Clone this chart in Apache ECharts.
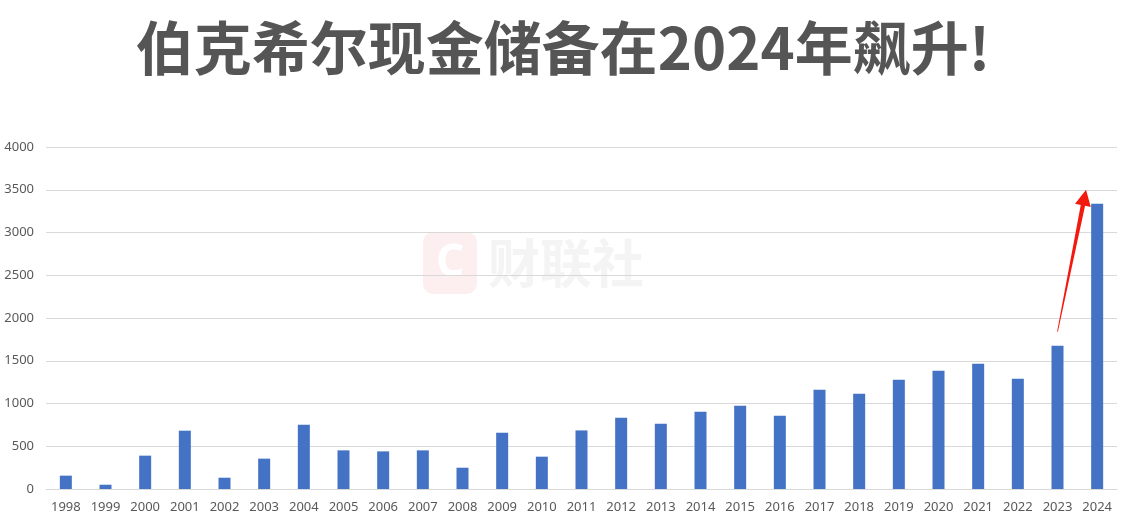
<!DOCTYPE html>
<html><head><meta charset="utf-8">
<script src="https://cdn.jsdelivr.net/npm/echarts@6/dist/echarts.min.js"></script>
<style>html,body{margin:0;padding:0;background:#fff}#c{width:1126px;height:520px}</style>
</head><body><div id="c"></div>
<script>
const titleText = '伯克希尔现金储备在2024年飙升!';
const years = ['1998','1999','2000','2001','2002','2003','2004','2005','2006','2007','2008','2009','2010','2011','2012','2013','2014','2015','2016','2017','2018','2019','2020','2021','2022','2023','2024'];
const cash = [156,50,390,682,132,355,752,452,440,452,249,658,378,685,834,764,904,975,858,1161,1114,1278,1383,1465,1290,1676,3337];
// arrow annotation in data space: [category index, value]
const arrowFrom = [25, 1840];
const arrowTo = [25.72, 3500];

const chart = echarts.init(document.getElementById('c'));
chart.setOption({
  animation: false,
  title: {
    text: titleText, left: 'center', top: 14,
    textStyle: {fontFamily: 'Noto Sans CJK SC', fontWeight: 'bold', fontSize: 58, color: '#555555'}
  },
  grid: {left: 46, right: 9, top: 147, bottom: 31},
  xAxis: {
    type: 'category', data: years,
    axisLine: {show: true, lineStyle: {color: '#d9d9d9'}},
    axisTick: {show: false},
    axisLabel: {color: '#595959', fontSize: 13, fontFamily: 'Noto Sans', margin: 12}
  },
  yAxis: {
    type: 'value', min: 0, max: 4000, interval: 500,
    axisLine: {show: false}, axisTick: {show: false},
    splitLine: {lineStyle: {color: '#d9d9d9'}},
    axisLabel: {color: '#595959', fontSize: 13, fontFamily: 'Noto Sans', margin: 12, formatter: v => String(v)}
  },
  series: [{
    type: 'bar', data: cash, barWidth: 12,
    itemStyle: {color: '#4472C4'}
  }]
});

function px(p){
  const i0 = Math.floor(p[0]);
  const a = chart.convertToPixel({gridIndex:0}, [i0, p[1]]);
  const b = chart.convertToPixel({gridIndex:0}, [i0+1, p[1]]);
  return [a[0] + (b[0]-a[0])*(p[0]-i0), a[1]];
}
const s = px(arrowFrom), e = px(arrowTo);
const dx = e[0]-s[0], dy = e[1]-s[1], L = Math.hypot(dx,dy);
const ux = dx/L, uy = dy/L, nx = -uy, ny = ux;
const headLen = 16, headW = 8, shaftEnd = 2.2;
const hb = [e[0]-ux*headLen, e[1]-uy*headLen];
const pts = [
  [s[0]+nx*0.4, s[1]+ny*0.4],
  [hb[0]+nx*shaftEnd, hb[1]+ny*shaftEnd],
  [hb[0]+nx*headW, hb[1]+ny*headW],
  e,
  [hb[0]-nx*headW, hb[1]-ny*headW],
  [hb[0]-nx*shaftEnd, hb[1]-ny*shaftEnd],
  [s[0]-nx*0.4, s[1]-ny*0.4]
];
chart.setOption({
  graphic: [
    {type:'rect', shape:{x:423,y:232,width:54,height:62,r:10}, style:{fill:'#fdeff0'}, z:-1, silent:true},
    {type:'text', style:{x:450,y:263,text:'C',fill:'#ffffff',font:'bold 44px "Noto Sans"',align:'center',verticalAlign:'middle'}, z:-1, silent:true},
    {type:'text', style:{x:488,y:263,text:'财联社',fill:'#f4f4f4',font:'bold 52px "Noto Sans CJK SC"',verticalAlign:'middle'}, z:-1, silent:true},
    {type:'polygon', shape:{points: pts}, style:{fill:'#f2190f'}, z:10, silent:true}
  ]
});
</script></body></html>
